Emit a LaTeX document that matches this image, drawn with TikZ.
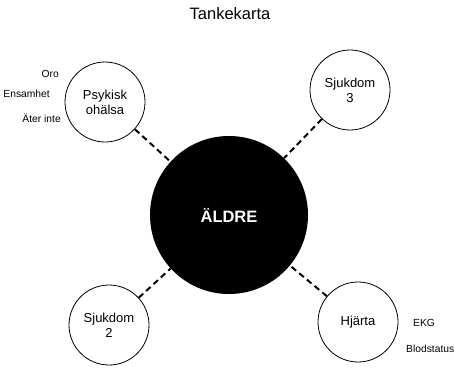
\documentclass[tikz,border=0pt]{standalone}
\usepackage{fontspec}
\setmainfont{Liberation Sans}
\begin{document}
\begin{tikzpicture}[x=1pt,y=-1pt,
  topic/.style={circle, draw, line width=0.8pt, minimum size=80pt, inner sep=0pt,
    align=center, font=\fontsize{13}{15}\selectfont},
  hub/.style={circle, fill=black, minimum size=158pt, inner sep=0pt, text=white,
    font=\fontsize{16.5}{18}\selectfont\bfseries},
  link/.style={line width=2pt, dash pattern=on 6pt off 4pt},
  note/.style={font=\fontsize{10.3}{12}\selectfont, inner sep=0pt}]
\useasboundingbox (0,0) rectangle (454,367);
% heading
\node[font=\fontsize{16.5}{18}\selectfont] (title) at (230,14) {Tankekarta};
% central idea and its branches
\node[hub] (hub) at (229,215) {ÄLDRE};
\node[topic] (psy) at (105,102) {Psykisk\\ohälsa};
\node[topic] (sj3) at (350,90) {Sjukdom\\3};
\node[topic] (sj2) at (109,325) {Sjukdom\\2};
\node[topic] (hja) at (358,322) {Hjärta};
\draw[link] (psy) -- (hub);
\draw[link] (sj3) -- (hub);
\draw[link] (sj2) -- (hub);
\draw[link] (hja) -- (hub);
% keywords beside the branches
\node[note, anchor=east] (oro) at (59,74) {Oro};
\node[note, anchor=east] (ens) at (50,94) {Ensamhet};
\node[note, anchor=east] (ate) at (61,118) {Äter inte};
\node[note, anchor=west] (ekg) at (413,323) {EKG};
\node[note, anchor=west] (blod) at (406,349) {Blodstatus};
\end{tikzpicture}
\end{document}
